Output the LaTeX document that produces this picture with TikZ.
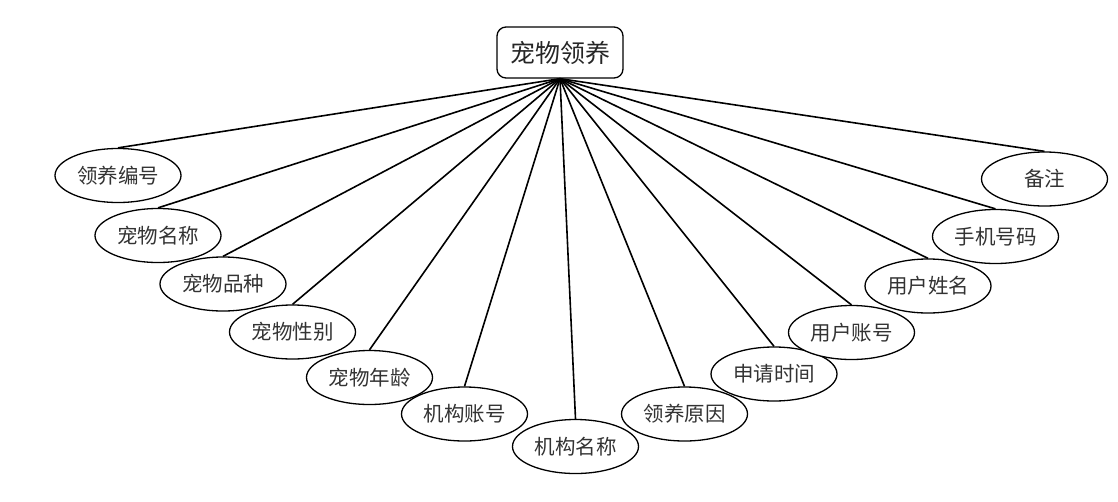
\documentclass[tikz,border=0pt]{standalone}
\usepackage{fontspec}
\newfontfamily\cjk{Noto Sans CJK SC}
\usetikzlibrary{shapes.geometric}
\tikzset{
  attr/.style={ellipse, draw=black, line width=1.3pt, fill=white, minimum width=126pt, minimum height=54pt, inner sep=0pt, font=\cjk\fontsize{20.5}{20.5}\selectfont, text=black!80},
  entity/.style={rectangle, rounded corners=9pt, draw=black, line width=1.3pt, fill=white, minimum width=126pt, minimum height=51pt, inner sep=0pt, font=\cjk\fontsize{25}{25}\selectfont, text=black!85},
  link/.style={line width=1.6pt, black}
}
\begin{document}
\begin{tikzpicture}[x=1pt,y=-1pt]
\useasboundingbox (0,0) rectangle (1118,501);
\node[entity] (root) at (560,52.5) {宠物领养};
\node[attr] (e1) at (118,175.5) {领养编号};
\node[attr] (e2) at (158,235.5) {宠物名称};
\node[attr] (e3) at (223,284) {宠物品种};
\node[attr] (e4) at (292.5,332) {宠物性别};
\node[attr] (e5) at (369.5,377.5) {宠物年龄};
\node[attr] (e6) at (464.5,414) {机构账号};
\node[attr] (e7) at (575.5,446.5) {机构名称};
\node[attr] (e8) at (684.5,414) {领养原因};
\node[attr] (e9) at (774,374) {申请时间};
\node[attr] (e10) at (851.5,332.5) {用户账号};
\node[attr] (e11) at (928,286) {用户姓名};
\node[attr] (e12) at (995.5,236.5) {手机号码};
\node[attr] (e13) at (1044.5,179) {备注};
\foreach \i in {1,...,13}{
  \draw[link] (root.south) -- (e\i.north);
}
\end{tikzpicture}
\end{document}
